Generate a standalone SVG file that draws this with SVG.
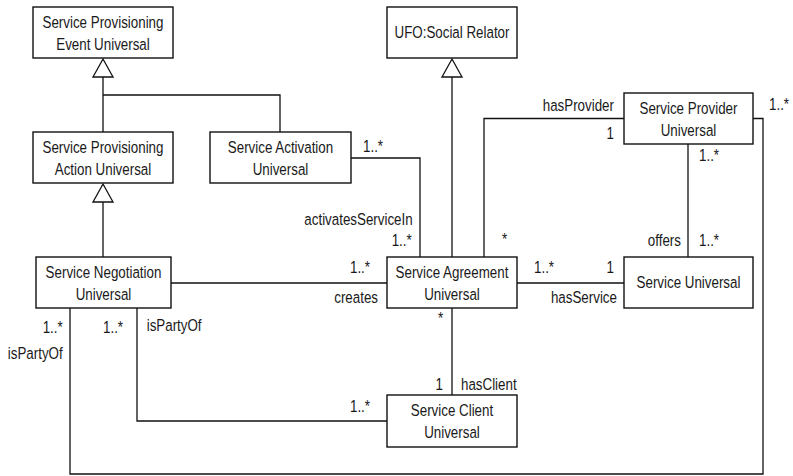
<svg xmlns="http://www.w3.org/2000/svg" width="793" height="476" viewBox="0 0 793 476">
  <style>
    .box { fill: #fff; stroke: #111; stroke-width: 1.4; }
    .edge { fill: none; stroke: #111; stroke-width: 1.3; }
    .gen { fill: #fff; stroke: #111; stroke-width: 1.3; }
    text { font-family: "Liberation Sans", Arial, sans-serif; font-size: 16.5px; fill: #1a1a1a; }
    .c { text-anchor: middle; }
    .e { text-anchor: end; }
  </style>
  <defs>
    <!-- hollow generalization triangle, apex at origin -->
    <polygon id="tri" points="0,0 -10,18 10,18"/>
  </defs>
  <rect width="793" height="476" fill="#fff"/>

  <!-- connectors -->
  <g id="connectors">
    <!-- generalizations -->
    <path class="edge" d="M103,257 V202"/>
    <path class="edge" d="M103,132 V77 M103,95 H280 V132"/>
    <path class="edge" d="M452,257 V77"/>
    <use href="#tri" class="gen" x="103" y="184"/>
    <use href="#tri" class="gen" x="103" y="59"/>
    <use href="#tri" class="gen" x="452" y="59"/>
    <!-- associations -->
    <path class="edge" d="M351,158 H420 V257"/>
    <path class="edge" d="M624,118.5 H484 V257"/>
    <path class="edge" d="M688,144 V257"/>
    <path class="edge" d="M517,283 H624"/>
    <path class="edge" d="M171,283 H387"/>
    <path class="edge" d="M452,308 V395"/>
    <path class="edge" d="M137,308 V421 H387"/>
    <path class="edge" d="M70,308 V474 H763 V118.5 H753"/>
  </g>

  <!-- class boxes -->
  <g id="service-provisioning-event"><rect class="box" x="33" y="7" width="140" height="51"/></g>
  <g id="ufo-social-relator"><rect class="box" x="387" y="7" width="130" height="51"/></g>
  <g id="service-provisioning-action"><rect class="box" x="33" y="132" width="140" height="51"/></g>
  <g id="service-activation"><rect class="box" x="210" y="132" width="141" height="51"/></g>
  <g id="service-provider"><rect class="box" x="624" y="93" width="129" height="51"/></g>
  <g id="service-negotiation"><rect class="box" x="36" y="257" width="135" height="51"/></g>
  <g id="service-agreement"><rect class="box" x="387" y="257" width="130" height="51"/></g>
  <g id="service-universal"><rect class="box" x="624" y="257" width="129" height="51"/></g>
  <g id="service-client"><rect class="box" x="387" y="395" width="130" height="52"/></g>

  <!-- all labels set in a horizontally condensed face -->
  <g id="labels" transform="scale(0.81,1)">
    <text class="c" x="127.16" y="28.5">Service Provisioning</text>
    <text class="c" x="127.16" y="50">Event Universal</text>
    <text class="c" x="558.02" y="38.5">UFO:Social Relator</text>
    <text class="c" x="127.16" y="153.5">Service Provisioning</text>
    <text class="c" x="127.16" y="175">Action Universal</text>
    <text class="c" x="346.3" y="153.5">Service Activation</text>
    <text class="c" x="346.3" y="175">Universal</text>
    <text class="c" x="850" y="114.5">Service Provider</text>
    <text class="c" x="850" y="136">Universal</text>
    <text class="c" x="127.78" y="278.5">Service Negotiation</text>
    <text class="c" x="127.78" y="300">Universal</text>
    <text class="c" x="558.02" y="278.5">Service Agreement</text>
    <text class="c" x="558.02" y="300">Universal</text>
    <text class="c" x="850" y="288.5">Service Universal</text>
    <text class="c" x="558.02" y="416.5">Service Client</text>
    <text class="c" x="558.02" y="438">Universal</text>

    <!-- association ends -->
    <text x="448.15" y="152">1..*</text>
    <text class="e" x="509.5" y="225">activatesServiceIn</text>
    <text class="e" x="508.3" y="246.5">1..*</text>
    <text class="e" x="758" y="111">hasProvider</text>
    <text class="e" x="758" y="139">1</text>
    <text x="949.4" y="110">1..*</text>
    <text x="863" y="161.5">1..*</text>
    <text class="e" x="840.7" y="246">offers</text>
    <text x="863" y="246">1..*</text>
    <text x="619.8" y="245">*</text>
    <text class="e" x="456.8" y="273">1..*</text>
    <text class="e" x="466.7" y="303">creates</text>
    <text x="659.3" y="273">1..*</text>
    <text class="e" x="758" y="273">1</text>
    <text class="e" x="761.7" y="303">hasService</text>
    <text x="540.7" y="324">*</text>
    <text class="e" x="546.9" y="390">1</text>
    <text x="569.1" y="390">hasClient</text>
    <text class="e" x="456.8" y="412">1..*</text>
    <text class="e" x="77.4" y="333">1..*</text>
    <text class="e" x="151.9" y="333">1..*</text>
    <text x="181.1" y="331.5">isPartyOf</text>
    <text class="e" x="77.4" y="359">isPartyOf</text>
  </g>
</svg>
